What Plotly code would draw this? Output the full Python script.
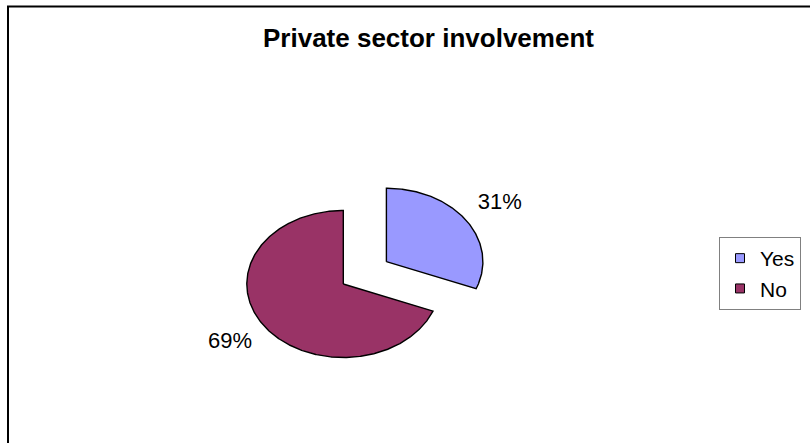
import numpy as np
import plotly.graph_objects as go

# Chart content
title = "Private sector involvement"
categories = ["Yes", "No"]
shares = [31, 69]                  # percent of respondents
colors = ["#9999FF", "#993366"]
explode = [0.54, 0.0]              # pull of each slice along its bisector, in radii

# Canvas and pie geometry (pixels)
W, H = 810, 443
CX, CY = 343.3, 284.0              # pie centre measured from left / top
RX, RY = 96.5, 73.5                # the pie is drawn as a flattened ellipse
LABEL_R = 1.42                     # distance of the percent labels, in radii

FONT = "Liberation Sans, Arial, Helvetica, sans-serif"

fig = go.Figure()

total = float(sum(shares))
start = 0.0                        # degrees, clockwise from 12 o'clock
for cat, val, col, pull in zip(categories, shares, colors, explode):
    sweep = 360.0 * val / total
    mid = np.radians(start + sweep / 2.0)
    ox, oy = pull * np.sin(mid), pull * np.cos(mid)
    theta = np.radians(np.linspace(start, start + sweep, int(sweep * 2) + 2))
    xs = np.concatenate([[ox], ox + np.sin(theta), [ox]])
    ys = np.concatenate([[oy], oy + np.cos(theta), [oy]])

    # slice
    fig.add_trace(go.Scatter(
        x=xs, y=ys, mode="lines", fill="toself", fillcolor=col,
        line=dict(color="black", width=1.4),
        showlegend=False, hoverinfo="skip",
    ))
    # percent label outside the slice
    fig.add_trace(go.Scatter(
        x=[ox + LABEL_R * np.sin(mid)], y=[oy + LABEL_R * np.cos(mid)],
        mode="text", text=[f"{val}%"], textposition="middle center",
        textfont=dict(family=FONT, size=22, color="black"),
        showlegend=False, hoverinfo="skip",
    ))
    # legend swatch
    fig.add_trace(go.Scatter(
        x=[None], y=[None], mode="markers", name=cat,
        marker=dict(symbol="square", size=9, color=col,
                    line=dict(color="black", width=1)),
    ))
    start += sweep

# Axis ranges chosen so one unit equals RX px horizontally and RY px vertically
xr = [-CX / RX, (W - CX) / RX]
yr = [-(H - CY) / RY, CY / RY]
fig.update_xaxes(range=xr, visible=False, fixedrange=True)
fig.update_yaxes(range=yr, visible=False, fixedrange=True)

fig.add_annotation(
    text=f"<b>{title}</b>", xref="paper", yref="paper",
    x=428.5 / W, y=1 - 38.3 / H, xanchor="center", yanchor="middle",
    showarrow=False, font=dict(family=FONT, size=26, color="black"),
)

# Chart-area frame (runs off the right and bottom edges)
fig.add_shape(
    type="rect", xref="paper", yref="paper",
    x0=8 / W, x1=1.05, y0=-0.05, y1=1 - 6.5 / H,
    line=dict(color="black", width=2), fillcolor="rgba(0,0,0,0)",
)

fig.update_layout(
    width=W, height=H, autosize=False,
    margin=dict(l=0, r=0, t=0, b=0),
    paper_bgcolor="white", plot_bgcolor="white",
    showlegend=True,
    legend=dict(
        x=719 / W, y=1 - 237 / H, xanchor="left", yanchor="top",
        bgcolor="white", bordercolor="#808080", borderwidth=1,
        font=dict(family=FONT, size=21, color="black"),
        traceorder="normal", tracegroupgap=0,
        entrywidth=100,
    ),
)

fig.write_html("out.html")
